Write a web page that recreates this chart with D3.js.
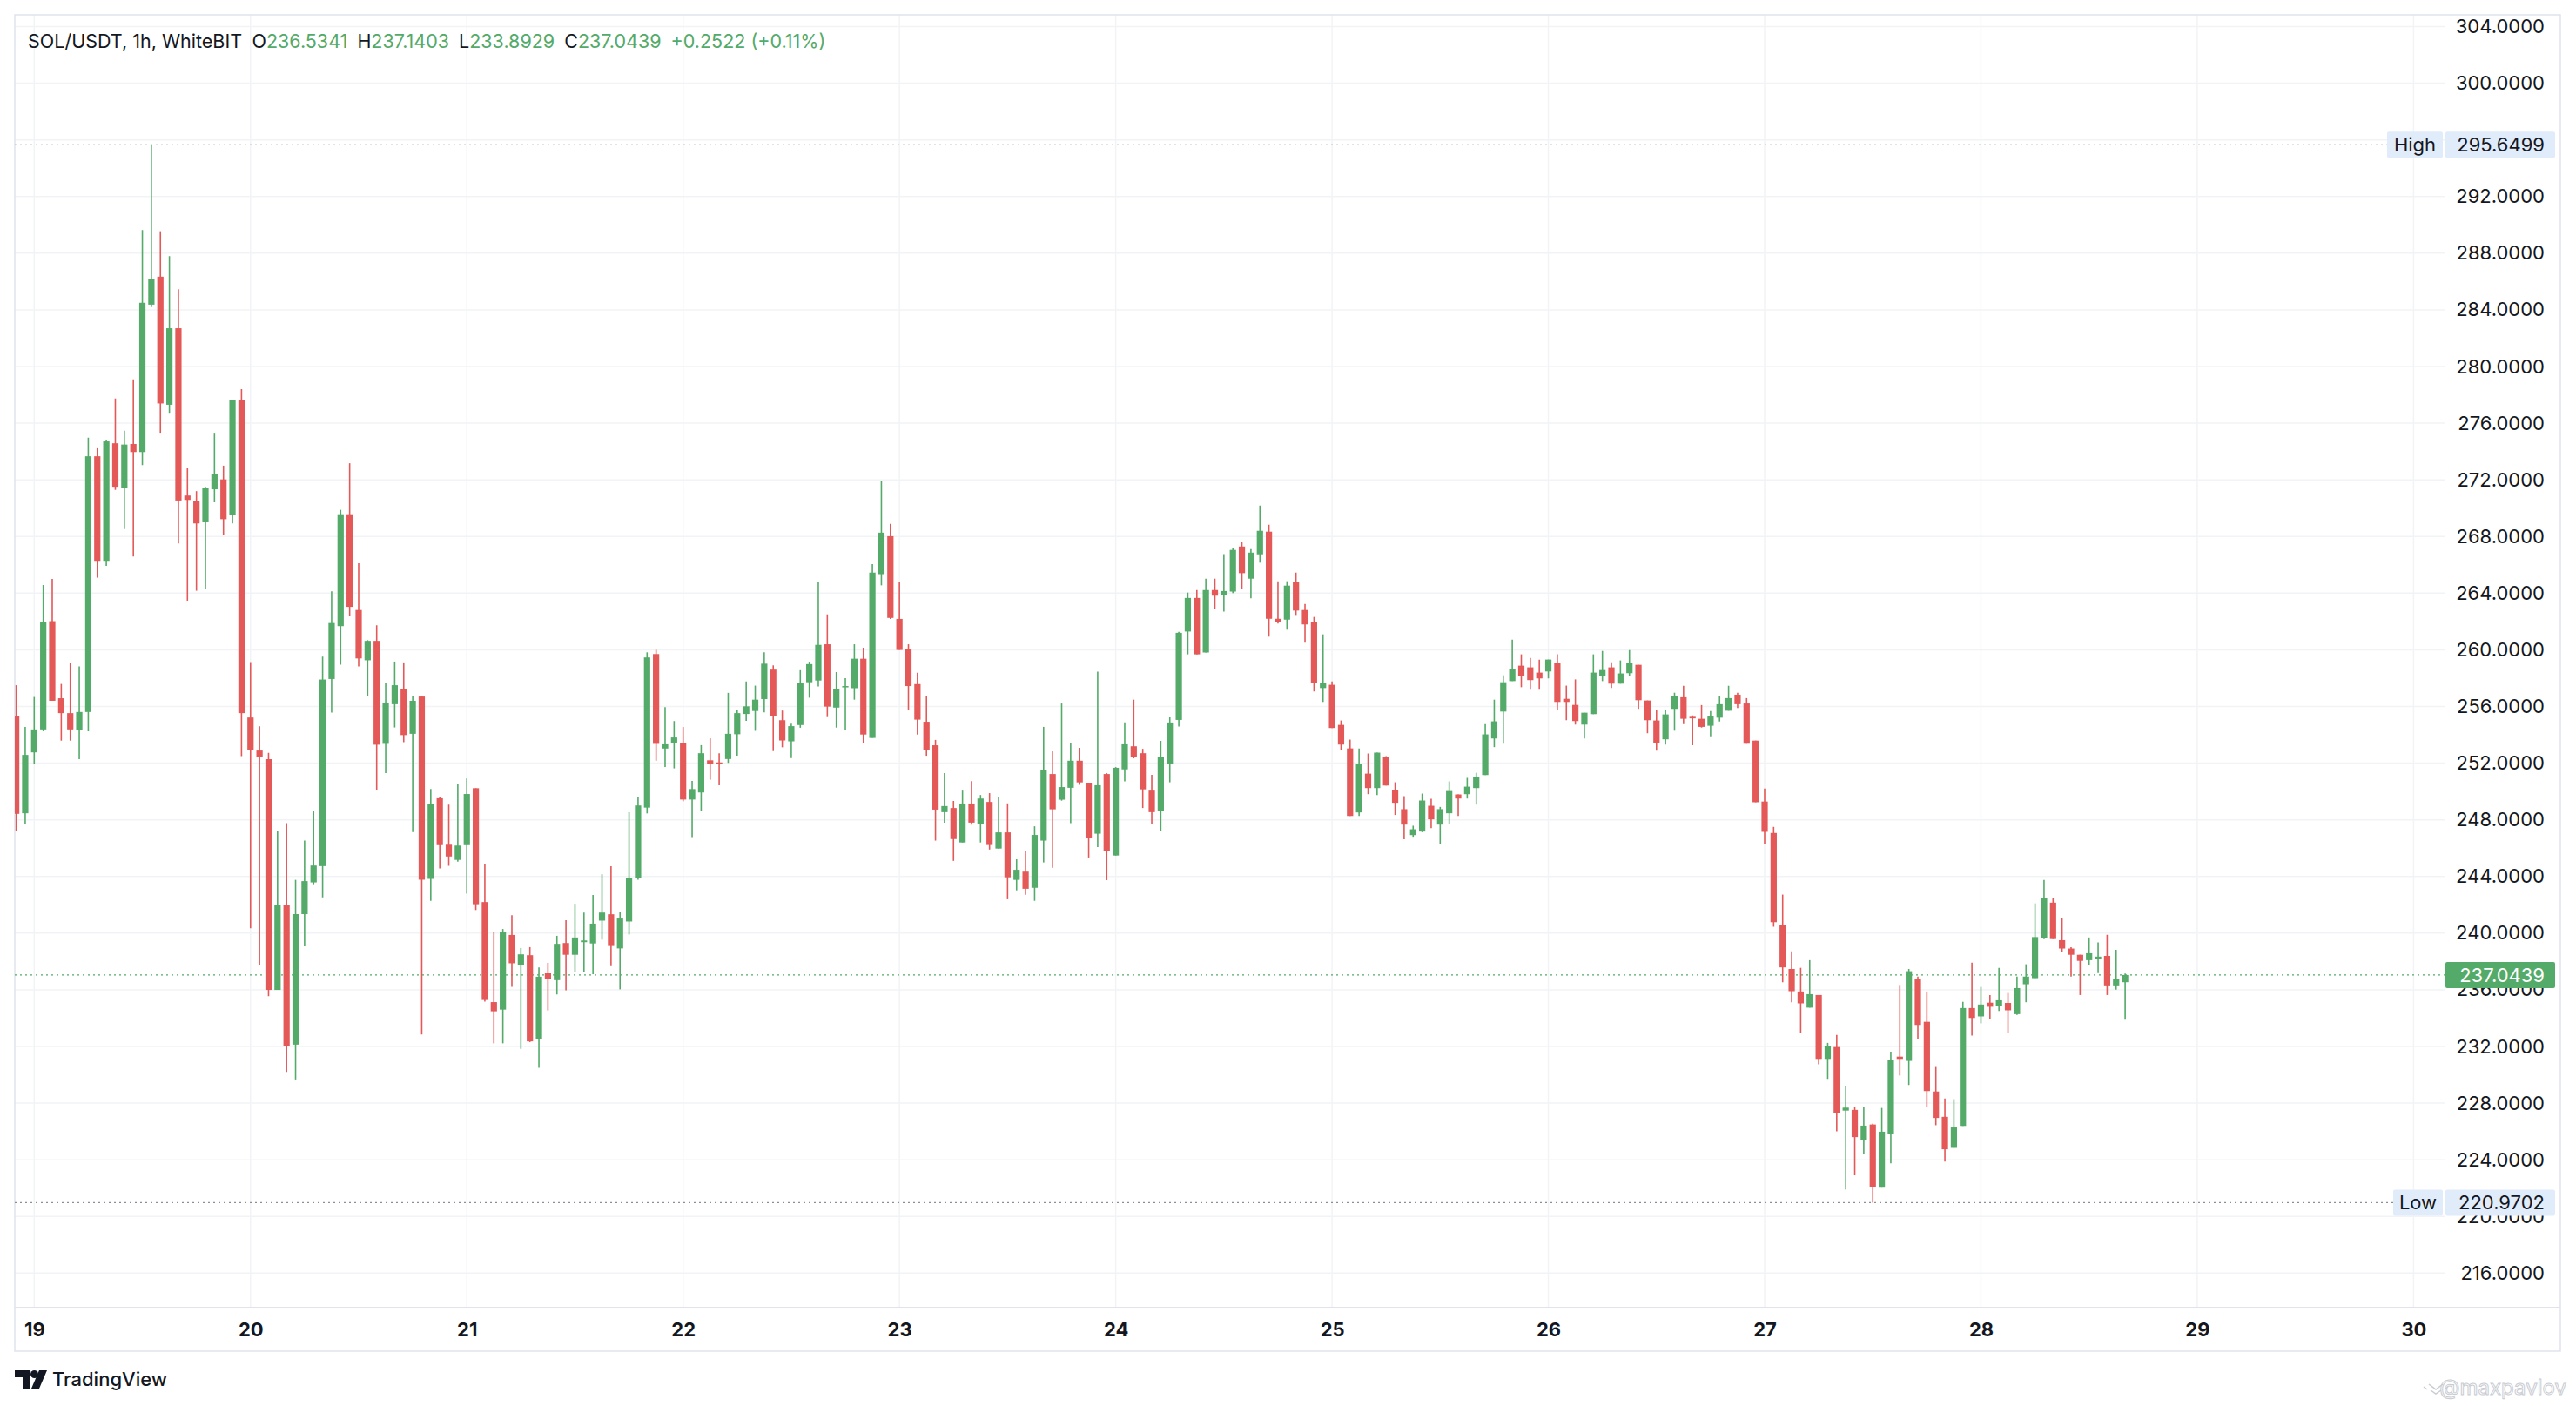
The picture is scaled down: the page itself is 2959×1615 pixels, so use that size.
<!DOCTYPE html>
<html>
<head>
<meta charset="utf-8">
<script src="https://cdn.jsdelivr.net/npm/d3@7"></script>
<style>
body { margin: 0; background: #fff; }
text { font-family: Inter, Roboto, "Noto Sans", sans-serif; }
</style>
</head>
<body>
<div id="chart"></div>
<script>
// hourly SOL/USDT bars, first one is 18 Jan 22:00
var firstBar = Date.UTC(2025, 0, 18, 22);

var opens = [
  255.35, 248.46, 252.76, 254.38, 262.02, 256.58, 255.53, 254.34, 255.61, 273.66, 266.28, 274.58,
  271.42, 274.53, 273.96, 284.37, 286.34, 277.30, 282.70, 270.89, 270.50, 269.00, 271.33, 272.03,
  269.49, 277.61, 255.22, 252.89, 252.28, 235.99, 242.00, 232.13, 241.34, 243.58, 244.73, 257.94,
  261.67, 269.57, 262.81, 259.26, 260.63, 253.36, 256.16, 257.26, 254.07, 256.70, 243.83, 249.52,
  246.24, 245.17, 246.21, 250.23, 242.19, 235.13, 234.60, 239.87, 237.75, 238.44, 232.51, 237.16,
  236.68, 239.30, 238.47, 239.36, 239.27, 240.88, 241.33, 238.92, 240.82, 243.89, 248.86, 259.70,
  253.03, 253.45, 253.39, 249.43, 249.93, 252.20, 252.05, 252.29, 254.04, 255.47, 255.68, 256.52,
  258.60, 255.03, 253.54, 254.69, 257.71, 257.83, 260.39, 255.92, 257.35, 257.29, 259.37, 253.78,
  265.34, 268.02, 262.18, 260.04, 257.58, 254.92, 253.26, 248.54, 248.83, 246.40, 249.15, 247.69,
  249.26, 245.97, 247.11, 243.76, 244.34, 243.20, 246.53, 251.23, 249.42, 250.26, 252.17, 250.62,
  247.02, 251.23, 245.48, 251.56, 253.19, 252.70, 250.06, 248.61, 251.92, 255.05, 261.29, 263.66,
  259.81, 264.22, 263.86, 264.11, 267.29, 265.02, 266.74, 268.34, 262.19, 262.13, 264.77, 262.81,
  261.95, 257.30, 257.53, 254.70, 253.04, 248.52, 251.26, 250.24, 252.41, 250.10, 248.75, 246.92,
  247.17, 248.99, 247.66, 248.46, 249.79, 249.81, 250.24, 251.16, 253.74, 255.64, 257.79, 258.88,
  258.76, 258.39, 258.47, 259.06, 256.54, 256.11, 254.72, 255.46, 258.16, 258.76, 257.61, 258.35,
  258.94, 256.42, 255.01, 253.68, 255.83, 256.65, 255.27, 255.13, 254.64, 255.21, 255.70, 256.83,
  256.21, 253.59, 249.29, 247.07, 240.56, 237.47, 235.88, 234.74, 235.63, 231.12, 231.96, 227.47,
  227.52, 225.41, 226.49, 222.03, 225.84, 231.28, 230.98, 236.74, 233.74, 228.82, 227.03, 224.84,
  226.39, 234.71, 234.12, 235.09, 234.88, 235.07, 234.28, 236.39, 236.82, 239.64, 242.15, 239.50,
  238.91, 238.47, 238.09, 238.15, 238.39, 236.31, 236.5341
];

var highs = [
  257.50, 254.56, 256.67, 264.57, 265.01, 257.59, 259.04, 258.82, 274.97, 274.23, 274.84, 277.74,
  275.46, 279.10, 289.64, 295.6499, 289.55, 287.79, 285.46, 272.87, 271.20, 271.51, 275.32, 273.00,
  277.65, 278.40, 259.13, 254.60, 252.72, 247.23, 247.76, 243.76, 246.53, 248.59, 259.52, 264.13,
  269.88, 273.17, 266.11, 260.68, 261.73, 257.68, 259.17, 259.11, 256.70, 256.70, 250.17, 249.58,
  249.07, 250.50, 250.92, 250.23, 244.90, 240.11, 240.29, 241.27, 238.95, 239.01, 237.58, 237.90,
  239.81, 240.91, 242.07, 241.45, 242.70, 244.16, 244.72, 241.51, 248.53, 249.58, 259.82, 260.00,
  255.95, 254.97, 254.55, 250.74, 253.27, 253.75, 252.70, 256.96, 255.77, 257.77, 257.47, 259.82,
  258.90, 255.71, 254.79, 258.56, 259.16, 264.78, 262.50, 258.43, 258.00, 260.39, 260.15, 266.05,
  271.91, 268.89, 264.78, 260.39, 258.38, 256.77, 253.64, 251.29, 249.33, 250.06, 250.73, 249.75,
  249.88, 249.59, 249.16, 245.21, 245.77, 247.54, 254.56, 252.84, 256.21, 253.44, 253.08, 250.62,
  258.45, 251.29, 251.72, 254.87, 256.48, 253.01, 251.18, 253.57, 255.23, 261.27, 264.04, 264.22,
  265.02, 265.02, 266.75, 267.17, 267.60, 267.11, 270.18, 268.83, 264.84, 264.84, 265.45, 263.24,
  262.32, 261.09, 257.77, 255.01, 253.66, 253.04, 252.68, 252.74, 252.49, 250.65, 249.67, 247.58,
  249.85, 249.48, 248.91, 250.71, 249.79, 250.96, 251.32, 254.76, 256.48, 258.20, 260.72, 259.68,
  259.43, 259.31, 259.31, 259.68, 257.47, 257.91, 255.56, 259.68, 259.92, 259.12, 259.25, 259.98,
  258.94, 256.42, 255.75, 255.75, 256.97, 257.46, 255.37, 256.10, 255.67, 256.73, 257.46, 256.97,
  256.59, 253.59, 250.21, 247.50, 242.72, 238.72, 237.55, 238.09, 235.63, 232.25, 232.82, 229.20,
  227.74, 227.76, 226.55, 227.66, 231.63, 236.34, 237.47, 236.93, 235.88, 230.55, 228.33, 228.28,
  235.15, 237.91, 236.20, 235.63, 237.55, 235.77, 236.93, 237.80, 242.10, 243.75, 242.45, 241.04,
  239.01, 238.47, 239.69, 239.34, 239.88, 238.82, 237.1403
];

var lows = [
  247.20, 247.67, 251.97, 254.25, 256.40, 253.59, 253.59, 252.28, 254.25, 265.09, 265.93, 271.29,
  268.52, 266.59, 273.04, 284.20, 275.32, 276.73, 267.51, 263.47, 264.17, 264.31, 270.41, 268.08,
  268.92, 252.50, 240.34, 237.75, 235.55, 235.99, 230.20, 229.67, 239.06, 243.45, 242.53, 255.57,
  258.95, 262.37, 258.82, 256.72, 250.08, 251.30, 254.52, 253.48, 247.14, 232.84, 242.28, 244.57,
  244.75, 245.05, 242.79, 241.63, 235.16, 232.22, 232.22, 236.21, 231.83, 232.31, 230.49, 234.54,
  235.67, 235.97, 237.25, 237.25, 237.10, 239.54, 237.67, 236.03, 239.90, 243.77, 248.45, 252.17,
  251.72, 251.63, 249.31, 246.78, 248.62, 250.83, 250.44, 252.02, 252.53, 254.99, 254.28, 255.59,
  252.85, 253.12, 252.35, 254.50, 256.62, 257.42, 255.25, 254.51, 254.31, 256.48, 253.42, 253.78,
  264.55, 262.18, 259.99, 255.72, 254.02, 252.52, 246.53, 247.80, 245.10, 246.40, 247.65, 246.40,
  245.90, 245.97, 242.39, 243.02, 242.71, 242.28, 244.99, 244.61, 249.35, 247.76, 250.47, 245.34,
  246.08, 243.74, 245.48, 250.71, 252.34, 248.83, 247.69, 247.20, 250.65, 254.58, 259.68, 259.68,
  259.81, 262.88, 262.70, 264.00, 264.30, 263.63, 266.15, 260.93, 261.85, 261.42, 262.46, 260.50,
  257.06, 256.32, 254.48, 252.94, 248.27, 248.27, 249.81, 249.75, 250.42, 248.34, 246.62, 246.80,
  247.13, 247.41, 246.31, 247.72, 248.27, 249.50, 249.07, 251.16, 253.13, 253.37, 257.79, 257.36,
  257.24, 257.24, 257.98, 255.77, 255.03, 254.72, 253.74, 255.46, 257.79, 257.30, 257.61, 258.16,
  255.83, 254.11, 252.88, 253.31, 254.29, 254.75, 253.26, 254.51, 253.89, 254.94, 255.70, 255.89,
  253.37, 249.24, 246.29, 240.45, 236.53, 235.12, 232.96, 234.74, 230.74, 229.71, 226.01, 221.90,
  222.90, 224.41, 220.9702, 222.03, 223.74, 229.95, 229.28, 232.52, 227.74, 226.44, 223.87, 224.84,
  226.39, 232.77, 233.63, 233.96, 234.50, 232.96, 234.23, 235.12, 236.82, 239.58, 239.58, 238.69,
  236.93, 235.63, 237.74, 237.18, 235.63, 236.01, 233.8929
];

var closes = [
  248.42, 252.58, 254.38, 261.93, 256.40, 255.53, 254.38, 255.61, 273.66, 266.28, 274.71, 271.51,
  274.49, 273.96, 284.50, 286.17, 277.39, 282.70, 270.54, 270.58, 268.92, 271.42, 272.43, 269.22,
  277.61, 255.53, 252.93, 252.41, 235.99, 242.00, 232.04, 241.34, 243.67, 244.77, 257.90, 261.89,
  269.57, 263.03, 259.39, 260.63, 253.30, 256.28, 257.50, 253.98, 256.40, 243.77, 249.13, 246.21,
  245.41, 246.18, 249.82, 242.04, 235.28, 234.48, 240.05, 237.87, 238.50, 232.36, 236.92, 236.77,
  239.24, 238.47, 239.69, 239.48, 240.67, 241.45, 239.09, 241.03, 243.86, 249.01, 259.46, 253.36,
  253.33, 253.81, 249.43, 250.17, 252.70, 251.93, 252.01, 254.07, 255.53, 256.01, 256.48, 259.02,
  255.32, 253.60, 254.61, 257.64, 258.99, 260.35, 255.99, 257.26, 257.44, 259.37, 254.02, 265.45,
  268.27, 262.25, 259.99, 257.44, 255.07, 252.95, 248.72, 248.97, 246.64, 249.15, 247.80, 249.50,
  246.22, 247.11, 243.94, 244.47, 243.13, 246.93, 251.54, 248.74, 250.31, 252.17, 250.64, 246.75,
  250.44, 245.79, 251.67, 253.33, 252.46, 250.15, 248.54, 252.41, 254.87, 261.20, 263.66, 259.68,
  264.22, 263.82, 264.15, 267.05, 265.41, 266.86, 268.40, 262.19, 261.97, 264.53, 262.77, 261.79,
  257.67, 257.65, 254.48, 253.31, 248.27, 251.94, 250.24, 252.74, 250.42, 249.20, 247.66, 247.33,
  249.36, 248.03, 248.75, 250.03, 249.50, 250.34, 251.02, 254.03, 254.95, 257.71, 258.63, 258.16,
  257.86, 257.98, 259.31, 256.32, 256.32, 254.97, 255.56, 258.39, 258.57, 257.61, 258.33, 259.06,
  256.44, 255.03, 253.39, 255.44, 256.73, 255.13, 255.16, 254.56, 255.29, 256.16, 256.59, 256.16,
  253.37, 249.24, 247.15, 240.77, 237.58, 235.90, 235.04, 235.69, 231.12, 232.06, 227.31, 227.68,
  225.60, 226.41, 222.09, 225.98, 231.04, 231.12, 237.31, 233.52, 228.85, 226.95, 224.74, 226.28,
  234.71, 234.01, 234.96, 234.80, 235.26, 234.55, 236.12, 236.93, 239.72, 242.45, 239.58, 238.91,
  238.47, 238.04, 238.58, 238.34, 236.31, 236.7917, 237.0439
];

var priceTicks = d3.range(216, 305, 4);
var dayTicks = d3.range(19, 31);
var title = "SOL/USDT, 1h, WhiteBIT";

var W = 2959, H = 1615;
var paneL = 17, paneR = 2808, paneT = 17, paneB = 1502;
var up = "#53aa69", down = "#e45858", grid = "#f2f3f6", border = "#e0e3eb", ink = "#131722";

var bars = opens.map(function(o, i) {
    return {t: new Date(firstBar + i * 3600000), o: o, h: highs[i], l: lows[i], c: closes[i]};
});

var x = d3.scaleUtc()
    .domain([new Date(Date.UTC(2025, 0, 19)), new Date(Date.UTC(2025, 0, 30))])
    .range([39.3, 2772.4]);
var y = d3.scaleLinear().domain([216, 304]).range([1462.3, 30.5]);

var svg = d3.select("#chart").append("svg")
    .attr("width", W).attr("height", H);
svg.append("rect").attr("width", W).attr("height", H).attr("fill", "#fff");

svg.append("clipPath").attr("id", "pane")
    .append("rect").attr("x", paneL).attr("y", paneT)
    .attr("width", paneR - paneL).attr("height", paneB - paneT);

//网格
var gGrid = svg.append("g");
gGrid.selectAll(".hg").data(priceTicks).enter().append("line")
    .attr("x1", paneL).attr("x2", paneR)
    .attr("y1", function(d) { return y(d) }).attr("y2", function(d) { return y(d) })
    .attr("stroke", grid).attr("stroke-width", 1.5);
gGrid.selectAll(".vg").data(dayTicks).enter().append("line")
    .attr("x1", function(d) { return x(new Date(Date.UTC(2025, 0, d))) })
    .attr("x2", function(d) { return x(new Date(Date.UTC(2025, 0, d))) })
    .attr("y1", paneT).attr("y2", paneB)
    .attr("stroke", grid).attr("stroke-width", 1.5);

//边框
svg.append("rect").attr("x", paneL).attr("y", paneT)
    .attr("width", 2941 - paneL).attr("height", 1552 - paneT)
    .attr("fill", "none").attr("stroke", border).attr("stroke-width", 1.5);
svg.append("line").attr("x1", paneL).attr("x2", 2941).attr("y1", paneB).attr("y2", paneB)
    .attr("stroke", border).attr("stroke-width", 2);

var last = bars[bars.length - 1];
var prev = bars[bars.length - 2];
var hi = d3.max(highs), lo = d3.min(lows);

//价格线
var gLines = svg.append("g");
gLines.append("line").attr("x1", paneL).attr("x2", 2742)
    .attr("y1", y(hi)).attr("y2", y(hi))
    .attr("stroke", "#8a8e99").attr("stroke-width", 1.2).attr("stroke-dasharray", "2,4");
gLines.append("line").attr("x1", paneL).attr("x2", 2749)
    .attr("y1", y(lo)).attr("y2", y(lo))
    .attr("stroke", "#8a8e99").attr("stroke-width", 1.2).attr("stroke-dasharray", "2,4");
gLines.append("line").attr("x1", paneL).attr("x2", paneR)
    .attr("y1", y(last.c)).attr("y2", y(last.c))
    .attr("stroke", up).attr("stroke-width", 1.2).attr("stroke-dasharray", "2,4");

//K线
var gBars = svg.append("g").attr("clip-path", "url(#pane)");
var candle = gBars.selectAll("g").data(bars).enter().append("g");
candle.append("line")
    .attr("x1", function(b) { return x(b.t) })
    .attr("x2", function(b) { return x(b.t) })
    .attr("y1", function(b) { return y(b.h) })
    .attr("y2", function(b) { return y(b.l) })
    .attr("stroke", function(b) { return b.c < b.o ? down : up })
    .attr("stroke-width", 1.6);
candle.append("rect")
    .attr("x", function(b) { return x(b.t) - 3.6 })
    .attr("width", 7.2)
    .attr("y", function(b) { return y(Math.max(b.o, b.c)) })
    .attr("height", function(b) { return Math.max(1.5, Math.abs(y(b.o) - y(b.c))) })
    .attr("fill", function(b) { return b.c < b.o ? down : up });

//价格轴
var yAxis = d3.axisRight(y).tickValues(priceTicks).tickFormat(d3.format(".4f")).tickSize(0);
var gY = svg.append("g").attr("transform", "translate(2923,0)").call(yAxis);
gY.select(".domain").remove();
gY.selectAll("text").attr("x", 0).attr("text-anchor", "end")
    .attr("font-size", 22).attr("fill", ink)
    .style("font-family", "Inter, Roboto, sans-serif");

//时间轴
var xAxis = d3.axisBottom(x).ticks(d3.utcDay.every(1)).tickFormat(d3.utcFormat("%-d")).tickSize(0);
var gX = svg.append("g").attr("transform", "translate(0,1519)").call(xAxis);
gX.select(".domain").remove();
gX.selectAll("text").attr("y", 0).attr("dy", "0.71em")
    .attr("font-size", 22).attr("font-weight", 700).attr("fill", ink)
    .style("font-family", "Inter, Roboto, sans-serif");

//标签
function tag(label, value, lx, fill, color, labelColor) {
    var cy = y(value);
    if (label) {
        svg.append("rect").attr("x", lx).attr("y", cy - 15).attr("width", 2806 - lx).attr("height", 30)
            .attr("fill", "#e1ecfb").attr("rx", 2);
        svg.append("text").attr("x", (lx + 2806) / 2).attr("y", cy).attr("dy", "0.35em")
            .attr("text-anchor", "middle").attr("font-size", 22).attr("fill", labelColor)
            .text(label);
    }
    svg.append("rect").attr("x", 2809).attr("y", cy - 15).attr("width", 126).attr("height", 30)
        .attr("fill", fill).attr("rx", 2);
    svg.append("text").attr("x", 2923).attr("y", cy).attr("dy", "0.35em")
        .attr("text-anchor", "end").attr("font-size", 22).attr("fill", color)
        .text(value.toFixed(4));
}
tag("High", hi, 2742, "#e1ecfb", ink, ink);
tag("Low", lo, 2749, "#e1ecfb", ink, ink);
tag(null, last.c, 0, up, "#fff");

//标题
var chg = last.c - prev.c;
var head = svg.append("text").attr("x", 32).attr("y", 47).attr("dy", "0.35em")
    .attr("font-size", 21.5).attr("fill", ink);
head.append("tspan").text(title);
[["O", last.o], ["H", last.h], ["L", last.l], ["C", last.c]].forEach(function(p, i) {
    head.append("tspan").attr("dx", i == 0 ? 12 : 11).text(p[0]);
    head.append("tspan").attr("fill", up).text(p[1].toFixed(4));
});
head.append("tspan").attr("dx", 11).attr("fill", up)
    .text((chg >= 0 ? "+" : "") + chg.toFixed(4) + " (" + (chg >= 0 ? "+" : "") + (chg / prev.c * 100).toFixed(2) + "%)");

//页脚
var logo = svg.append("g").attr("fill", ink);
logo.append("path").attr("d", "M17,1574 h17 v21 h-8 v-13 h-9 z");
logo.append("circle").attr("cx", 39.5).attr("cy", 1578.5).attr("r", 4.5);
logo.append("path").attr("d", "M45,1574 h9 l-9,21 h-9 z");
svg.append("text").attr("x", 60).attr("y", 1584).attr("dy", "0.35em")
    .attr("font-size", 22).attr("font-weight", 500).attr("fill", ink).text("TradingView");
svg.append("text").attr("x", 2948).attr("y", 1594).attr("dy", "0.35em")
    .attr("text-anchor", "end").attr("font-size", 24).attr("fill", "none")
    .attr("stroke", "#c9ccd3").attr("stroke-width", 1).text("@maxpavlov");
svg.append("path").attr("d", "M2790,1590 l8,6 l8,-6 M2792,1597 l6,4 l6,-4 M2784,1593 l4,3 M2812,1593 l-4,3")
    .attr("fill", "none").attr("stroke", "#c9ccd3").attr("stroke-width", 1.5);
</script>
</body>
</html>
